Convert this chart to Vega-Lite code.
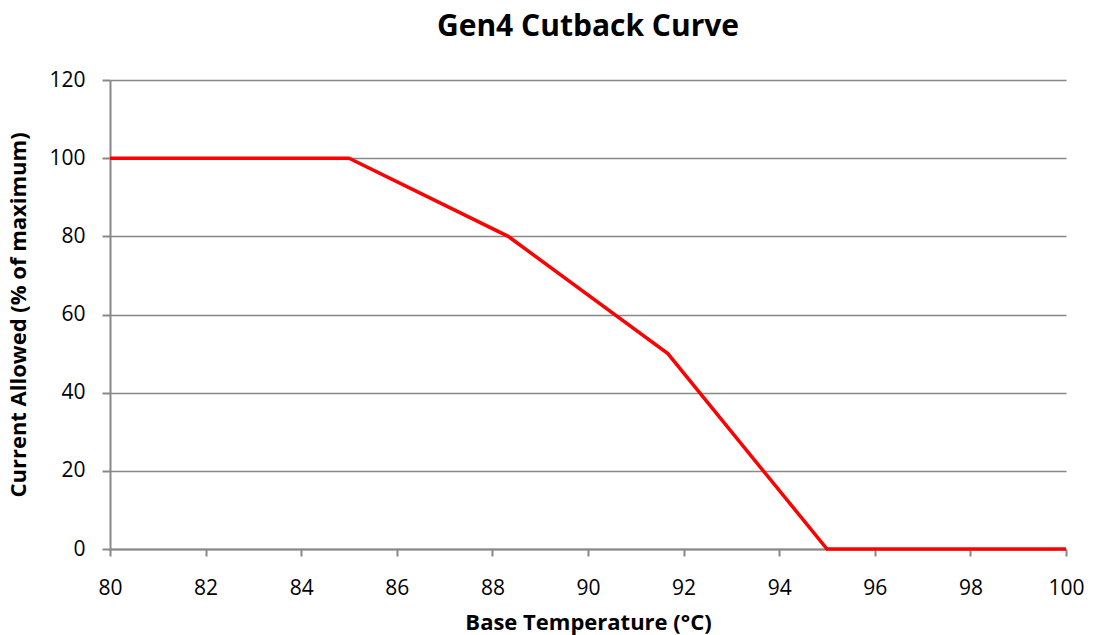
{
  "$schema": "https://vega.github.io/schema/vega-lite/v6.json",
  "autosize": {"type": "none"},
  "width": 956,
  "height": 469,
  "padding": {"left": 110, "top": 80, "right": 27, "bottom": 86},
  "background": "white",
  "title": {
    "text": "Gen4 Cutback Curve",
    "font": "Open Sans",
    "fontSize": 30,
    "fontWeight": "bold",
    "color": "black",
    "anchor": "middle",
    "offset": 27
  },
  "config": {
    "view": {"stroke": null},
    "font": "Open Sans"
  },
  "data": {
    "values": [
      {"temp": 80, "current": 100},
      {"temp": 85, "current": 100},
      {"temp": 88.33, "current": 80},
      {"temp": 91.67, "current": 50},
      {"temp": 95, "current": 0},
      {"temp": 100, "current": 0}
    ]
  },
  "mark": {"type": "line", "color": "#ff0000", "strokeWidth": 3.5, "clip": false},
  "encoding": {
    "x": {
      "field": "temp",
      "type": "quantitative",
      "scale": {"domain": [80, 100], "nice": false, "zero": false},
      "axis": {
        "title": "Base Temperature (°C)",
        "titleFont": "Open Sans",
        "titleFontSize": 22,
        "titleFontWeight": "bold",
        "titleColor": "black",
        "titlePadding": 14,
        "values": [80, 82, 84, 86, 88, 90, 92, 94, 96, 98, 100],
        "labelFontSize": 21,
        "labelColor": "black",
        "labelPadding": 21,
        "labelFlush": false,
        "grid": false,
        "domainColor": "#888888",
        "domainWidth": 2,
        "tickColor": "#888888",
        "tickWidth": 2,
        "tickSize": 7
      }
    },
    "y": {
      "field": "current",
      "type": "quantitative",
      "scale": {"domain": [0, 120], "nice": false},
      "axis": {
        "title": "Current Allowed (% of maximum)",
        "titleFont": "Open Sans",
        "titleFontSize": 22,
        "titleFontWeight": "bold",
        "titleColor": "black",
        "titlePadding": 18,
        "values": [0, 20, 40, 60, 80, 100, 120],
        "labelFontSize": 21,
        "labelColor": "black",
        "labelPadding": 17,
        "labelFlush": false,
        "grid": true,
        "gridColor": "#888888",
        "gridWidth": 1.5,
        "domainColor": "#888888",
        "domainWidth": 2,
        "tickColor": "#888888",
        "tickWidth": 2,
        "tickSize": 8
      }
    }
  }
}
